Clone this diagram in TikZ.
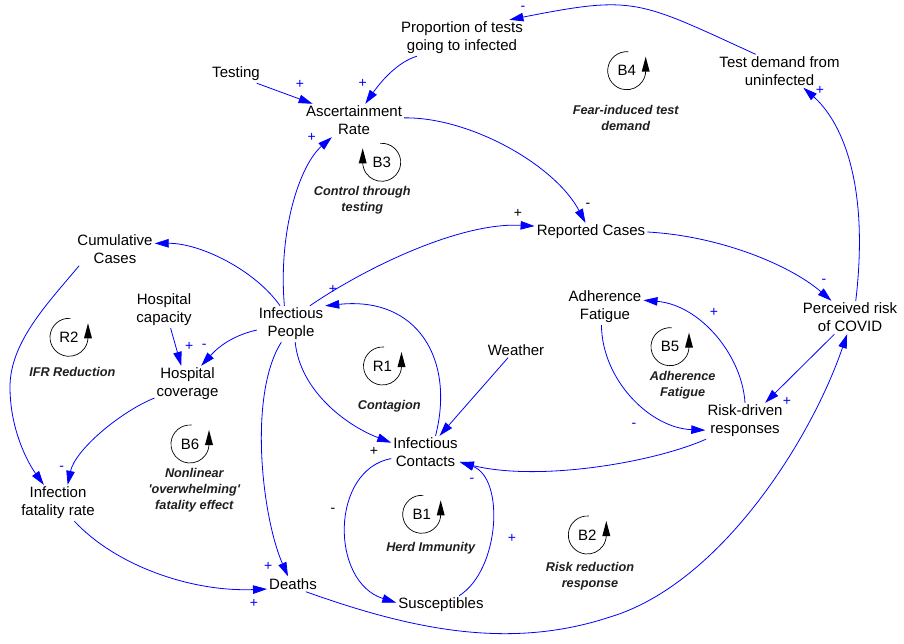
\documentclass[tikz,border=0pt]{standalone}
\usepackage{fontspec}
\setmainfont{Liberation Sans}
\usetikzlibrary{arrows.meta}
\definecolor{lk}{RGB}{0,0,255}
\newcommand\cldvfont{\fontsize{15}{18}\selectfont}
\newcommand\cldlfont{\fontsize{12.7}{16}\selectfont\bfseries\itshape}
\newcommand\cldpfont{\fontsize{14}{14}\selectfont}
\newcommand\cldloopccw[3]{%
  \node[loopid] (#1) at (#2) {#3};
  \draw[looparc] (#1.center) ++(85:19pt) arc[start angle=85,end angle=360,radius=19pt];
  \fill (#1.center) ++(19pt,14pt) -- ++(-4pt,-15pt) -- ++(8pt,0pt) -- cycle;
}
\newcommand\cldloopcw[3]{%
  \node[loopid] (#1) at (#2) {#3};
  \draw[looparc] (#1.center) ++(95:19pt) arc[start angle=95,end angle=-180,radius=19pt];
  \fill (#1.center) ++(-19pt,14pt) -- ++(-4pt,-15pt) -- ++(8pt,0pt) -- cycle;
}
\begin{document}
\begin{tikzpicture}[x=1pt,y=1pt,
  vnode/.style={align=center,inner sep=2pt,font=\cldvfont,text=black},
  lnk/.style={draw=lk,line width=0.8pt,-{Triangle[length=14pt,width=8.5pt]}},
  polb/.style={font=\cldpfont,inner sep=0pt,text=lk},
  polk/.style={font=\cldpfont,inner sep=0pt,text=black},
  loopid/.style={font=\cldvfont,inner sep=0pt,text=black},
  loopname/.style={align=center,font=\cldlfont,inner sep=0pt,text=black!88},
  looparc/.style={draw=black,line width=0.7pt},
]
\useasboundingbox (0,0) rectangle (904,-644);

% variables
\node[vnode] (prop) at (462,-38) {Proportion of tests\\going to infected};
\node[vnode] (test) at (236,-74) {Testing};
\node[vnode] (asc) at (354,-120.5) {Ascertainment\\Rate};
\node[vnode] (tdu) at (779.5,-71) {Test demand from\\uninfected};
\node[vnode] (rep) at (591,-232) {Reported Cases};
\node[vnode] (cum) at (115,-249) {Cumulative\\Cases};
\node[vnode] (hcap) at (164,-310) {Hospital\\capacity};
\node[vnode] (ip) at (291,-324) {Infectious\\People};
\node[vnode] (pr) at (850,-317.5) {Perceived risk\\of COVID};
\node[vnode] (af) at (605,-307) {Adherence\\Fatigue};
\node[vnode] (wea) at (516,-350) {Weather};
\node[vnode] (hcov) at (187.5,-384) {Hospital\\coverage};
\node[vnode] (ic) at (425.5,-452.5) {Infectious\\Contacts};
\node[vnode] (rdr) at (745,-421) {Risk-driven\\responses};
\node[vnode] (ifr) at (58,-503) {Infection\\fatality rate};
\node[vnode] (dea) at (293,-584) {Deaths};
\node[vnode] (sus) at (441,-605) {Susceptibles};

% links
\draw[lnk] (test.-24) -- (asc.158);
\draw[lnk] (prop.202) .. controls (398,-62) and (382,-80) .. (asc.56);
\draw[lnk] (tdu.145) .. controls (637,0) and (635,5) .. (prop.21);
\draw[lnk] (pr.71) .. controls (870,-180) and (840,-120) .. (tdu.-35);
\draw[lnk] (asc.3) .. controls (470,-117) and (555,-165) .. (rep.121);
\draw[lnk] (ip.44) .. controls (365,-268) and (460,-222) .. (rep.174);
\draw[lnk] (rep.0) .. controls (720,-236) and (790,-265) .. (pr.138);
\draw[lnk] (pr.227) -- (rdr.42);
\draw[lnk] (dea.-31) .. controls (413,-630) and (510,-650) .. (610,-617)
  .. controls (720,-584) and (811,-440) .. (pr.-100);
\draw[lnk] (rdr.90) .. controls (742,-355) and (700,-305) .. (af.10);
\draw[lnk] (af.-101) .. controls (602,-380) and (650,-428) .. (rdr.193);
\draw[lnk] (rdr.205) .. controls (655,-462) and (540,-482) .. (ic.-16);
\draw[lnk] (sus.27) .. controls (500,-570) and (505,-478) .. (ic.-15);
\draw[lnk] (ic.190) .. controls (330,-470) and (330,-582) .. (sus.177);
\draw[lnk] (ic.59) .. controls (455,-360) and (418,-296) .. (ip.28);
\draw[lnk] (ip.-77) .. controls (300,-390) and (345,-425) .. (ic.164);
\draw[lnk] (wea.224) -- (ic.50);
\draw[lnk] (ip.110) .. controls (278,-230) and (300,-165) .. (asc.217);
\draw[lnk] (ip.121) .. controls (255,-270) and (200,-243) .. (cum.8);
\draw[lnk] (ip.190) .. controls (235,-335) and (220,-345) .. (hcov.53);
\draw[lnk] (hcap.-70) -- (hcov.109);
\draw[lnk] (hcov.203) .. controls (120,-412) and (75,-450) .. (ifr.62);
\draw[lnk] (cum.205) .. controls (48,-303) and (10,-342) .. (10,-387)
  .. controls (10,-430) and (28,-463) .. (ifr.128);
\draw[lnk] (ifr.-48) .. controls (115,-565) and (190,-592) .. (dea.191);
\draw[lnk] (ip.242) .. controls (248,-395) and (262,-517) .. (dea.123);

% polarities
\node[polb] (p1) at (300,-84.5) {+};
\node[polb] (p2) at (362.7,-83.3) {+};
\node[polb] (p3) at (311.7,-137.3) {+};
\node[polb] (p4) at (523,-8) {-};
\node[polb] (p5) at (820,-90) {+};
\node[polk] (p6) at (588,-205) {-};
\node[polk] (p7) at (518,-213) {+};
\node[polb] (p8) at (824,-281) {-};
\node[polb] (p9) at (787,-401) {+};
\node[polb] (p10) at (714,-312) {+};
\node[polb] (p11) at (634,-425) {-};
\node[polb] (p12) at (472,-480) {-};
\node[polb] (p13) at (512,-538) {+};
\node[polk] (p14) at (333,-510) {-};
\node[polb] (p15) at (333,-289) {+};
\node[polk] (p16) at (374,-451.7) {+};
\node[polb] (p17) at (204.3,-346) {-};
\node[polb] (p18) at (189.3,-346) {+};
\node[polb] (p19) at (61.7,-468.3) {-};
\node[polb] (p20) at (268.3,-566.7) {+};
\node[polb] (p21) at (254,-603.3) {+};

% loops
\cldloopcw{lB3}{381.7,-162.3}{B3}
\cldloopccw{lB4}{626.7,-70.7}{B4}
\cldloopccw{lR2}{69,-337.3}{R2}
\cldloopccw{lR1}{382.5,-366}{R1}
\cldloopccw{lB5}{670,-346.7}{B5}
\cldloopccw{lB6}{190,-444}{B6}
\cldloopccw{lB1}{421.7,-514.3}{B1}
\cldloopccw{lB2}{587.3,-535}{B2}

\node[loopname] (nB3) at (362.3,-200.3) {Control through\\testing};
\node[loopname] (nB4) at (625.7,-118) {Fear-induced test\\demand};
\node[loopname] (nR2) at (72.3,-371.7) {IFR Reduction};
\node[loopname] (nR1) at (389.3,-406) {Contagion};
\node[loopname] (nB5) at (682.7,-385.3) {Adherence\\Fatigue};
\node[loopname] (nB6) at (194.3,-490.5) {Nonlinear\\\textquotesingle overwhelming\textquotesingle\\fatality effect};
\node[loopname] (nB1) at (430.7,-548.3) {Herd Immunity};
\node[loopname] (nB2) at (590,-576) {Risk reduction\\response};
\end{tikzpicture}
\end{document}
